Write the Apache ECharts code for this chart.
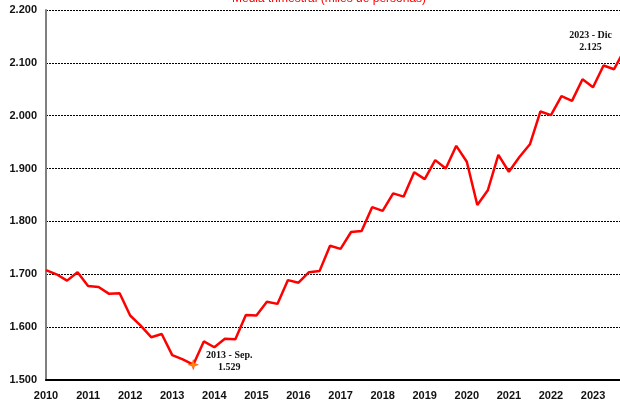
<!DOCTYPE html>
<html>
<head>
<meta charset="utf-8">
<script src="https://cdn.jsdelivr.net/npm/echarts@6/dist/echarts.min.js"></script>
<style>
html,body{margin:0;padding:0;background:#fff;}
#c{width:620px;height:408px;}
</style>
</head>
<body>
<div id="c"></div>
<script>
// Data: quarterly average (thousands of persons), 2010 Q1 .. 2023 Q4
var years = [2010,2011,2012,2013,2014,2015,2016,2017,2018,2019,2020,2021,2022,2023];
var quarters = ['Mar','Jun','Sep','Dic'];
var values = [
  1708,1700,1688,1704,
  1678,1676,1663,1664,
  1622,1603,1581,1587,
  1547,1539,1529,1573,
  1562,1578,1577,1623,
  1622,1648,1644,1689,
  1684,1704,1706,1754,
  1748,1780,1782,1827,
  1820,1853,1847,1893,
  1880,1916,1900,1943,
  1913,1831,1859,1926,
  1894,1922,1946,2008,
  2001,2037,2028,2069,
  2054,2095,2088,2125
];
var yTicks = [1500,1600,1700,1800,1900,2000,2100,2200];
var titleText = 'Media trimestral (miles de personas)';
// annotations: index into values, text of period
var annotIndex = [14, 55];
var annotPeriod = ['2013 - Sep.', '2023 - Dic'];

var categories = [];
years.forEach(function(y){ quarters.forEach(function(q){ categories.push(y + '-' + q); }); });

function fmt(v){
  var s = String(Math.round(v));
  return s.slice(0, s.length-3) + '.' + s.slice(s.length-3);
}

var seriesData = values.map(function(v, i){
  var k = annotIndex.indexOf(i);
  if (k < 0) return v;
  var item = {
    value: v,
    label: {
      show: true,
      formatter: annotPeriod[k] + '\n' + fmt(v),
      fontFamily: 'Liberation Serif',
      fontWeight: 'bold',
      fontSize: 10,
      lineHeight: 11.5,
      color: '#111',
      align: 'center',
      verticalAlign: 'middle',
      position: 'inside'
    }
  };
  if (k === 0) {
    item.symbol = 'path://M0,-10 L2.5,-2.5 L10,0 L2.5,2.5 L0,10 L-2.5,2.5 L-10,0 L-2.5,-2.5 Z';
    item.symbolSize = 10;
    item.itemStyle = { color: '#FF8C00', borderColor: '#FF3300', borderWidth: 0.5, opacity: 1 };
    item.label.offset = [36, -3];
  } else {
    item.label.offset = [-34, -8];
  }
  return item;
});

var chart = echarts.init(document.getElementById('c'), null, {renderer: 'canvas'});
chart.setOption({
  animation: false,
  backgroundColor: '#ffffff',
  title: {
    text: titleText,
    left: 232,
    top: -7,
    padding: 0,
    textStyle: { color: '#FF0000', fontSize: 12, fontWeight: 'normal', fontFamily: 'Liberation Sans' }
  },
  grid: { left: 46, width: 578.6, top: 10, height: 370, containLabel: false, outerBoundsMode: 'none' },
  xAxis: {
    type: 'category',
    data: categories,
    boundaryGap: false,
    axisLine: { show: true, lineStyle: { color: '#000', width: 2 } },
    axisTick: { show: false },
    axisLabel: {
      interval: 0,
      margin: 10,
      color: '#111',
      fontWeight: 'bold',
      fontSize: 11,
      fontFamily: 'Liberation Sans',
      formatter: function(v){ var p = v.split('-'); return p[1] === quarters[0] ? p[0] : ''; }
    },
    splitLine: { show: false }
  },
  yAxis: {
    type: 'value',
    min: yTicks[0],
    max: yTicks[yTicks.length-1],
    interval: 100,
    axisLine: { show: true, lineStyle: { color: '#808080', width: 2 } },
    axisTick: { show: false },
    axisLabel: {
      margin: 9,
      color: '#111',
      fontWeight: 'bold',
      fontSize: 11,
      fontFamily: 'Liberation Sans',
      formatter: function(v){ return fmt(v); }
    },
    splitLine: { show: true, lineStyle: { color: '#000', width: 1, type: [2, 1] } }
  },
  series: [{
    type: 'line',
    data: seriesData,
    symbol: 'circle',
    symbolSize: 0,
    showSymbol: true,
    clip: false,
    silent: true,
    lineStyle: { color: '#FF0000', width: 2.5 },
    itemStyle: { color: '#FF0000' },
    emphasis: { disabled: true },
    z: 5
  }]
});
</script>
</body>
</html>
